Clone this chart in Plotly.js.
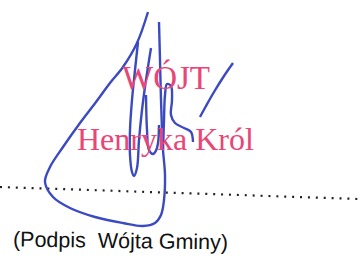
<!DOCTYPE html>
<html>
<head>
<meta charset="utf-8">
<script src="https://cdn.plot.ly/plotly-3.0.1.min.js"></script>
<style>html,body{margin:0;padding:0;background:#fff;}#chart{width:361px;height:258px;}</style>
</head>
<body>
<div id="chart"></div>
<script>
// Stamp and caption texts
var stampTitle = "WÓJT";
var stampName = "Henryka Król";
var caption = "(Podpis\u00a0 Wójta Gminy)";

// Signature strokes (pixel-space coordinates)
var mainLoopX = [159, 160, 161, 162, 163, 165, 164, 161, 155, 143, 123, 95, 70, 53, 45, 50, 63, 80, 96, 110, 123, 137, 148];
var mainLoopY = [22, 60, 100, 130, 150, 175, 200, 215, 223, 226, 223, 217, 208, 197, 182, 167, 147, 123, 102, 83, 67, 43, 12];
var leftLoopX = [138, 135, 132, 130, 130, 132, 134, 137, 139, 142, 146, 151];
var leftLoopY = [42, 70, 100, 130, 155, 172, 176, 168, 140, 110, 80, 48];
var smallLoopX = [146, 147, 149, 153, 157, 159];
var smallLoopY = [95, 130, 150, 154, 148, 125];
var hookX = [163, 164, 165, 167, 171, 172, 171, 175, 184, 191, 193];
var hookY = [150, 120, 95, 84, 86, 100, 115, 123, 128, 132, 142];
var slashX = [233, 224, 214, 206, 200];
var slashY = [63, 76, 92, 106, 117];

// Dotted signature line
var dotLineX = [0, 358];
var dotLineY = [187, 199];

var ink = "#3b4ac0";
function stroke(x, y) {
  return {x: x, y: y, mode: "lines", type: "scatter", hoverinfo: "skip",
          line: {color: ink, width: 2.4, shape: "spline", smoothing: 1}};
}

var data = [
  {x: dotLineX, y: dotLineY, mode: "lines", type: "scatter", hoverinfo: "skip",
   line: {color: "#222222", width: 2.2, dash: "2px,5.9px"}},
  stroke(mainLoopX, mainLoopY),
  stroke(leftLoopX, leftLoopY),
  stroke(smallLoopX, smallLoopY),
  stroke(hookX, hookY),
  stroke(slashX, slashY)
];

var pink = "#e84677";
var layout = {
  width: 361, height: 258,
  margin: {l: 0, r: 0, t: 0, b: 0},
  paper_bgcolor: "#ffffff", plot_bgcolor: "#ffffff",
  showlegend: false,
  xaxis: {range: [0, 361], visible: false, fixedrange: true},
  yaxis: {range: [258, 0], visible: false, fixedrange: true},
  annotations: [
    {x: 166, y: 77.5, xref: "x", yref: "y", text: stampTitle, showarrow: false,
     xanchor: "center", yanchor: "middle",
     font: {family: "Liberation Serif", size: 33, color: pink}},
    {x: 165, y: 139, xref: "x", yref: "y", text: stampName, showarrow: false,
     xanchor: "center", yanchor: "middle",
     font: {family: "Liberation Serif", size: 32, color: pink}},
    {x: 120, y: 241, xref: "x", yref: "y", text: caption, showarrow: false,
     xanchor: "center", yanchor: "middle", textangle: 0.8,
     font: {family: "Liberation Sans", size: 21.5, color: "#111111"}}
  ]
};

Plotly.newPlot("chart", data, layout, {staticPlot: true, displayModeBar: false});
</script>
</body>
</html>
